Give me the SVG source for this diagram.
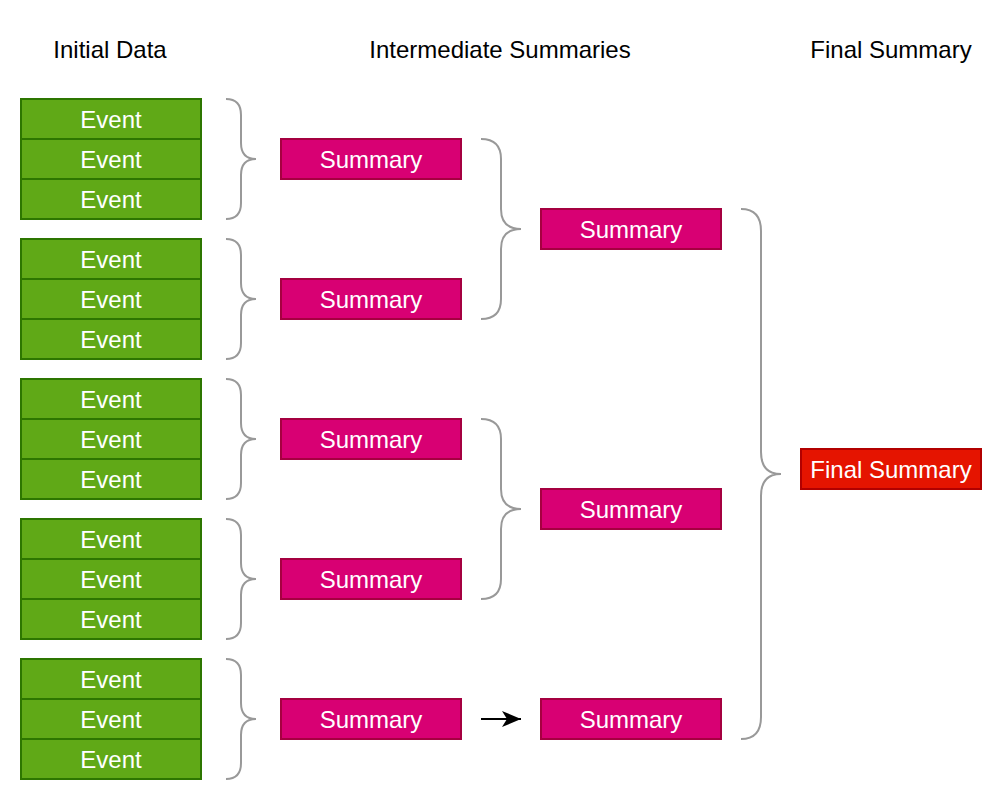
<svg xmlns="http://www.w3.org/2000/svg" width="1006" height="802" viewBox="0 0 1006 802">
<defs>
<style>
text{font-family:"Liberation Sans",Arial,sans-serif;font-size:24px;text-anchor:middle;dominant-baseline:central}
.h{fill:#000}
.ev rect{fill:#60a917;stroke:#2d7600;stroke-width:2}
.ev text,.sm text,.fs text{fill:#fff}
.sm rect{fill:#d80073;stroke:#a50040;stroke-width:2}
.fs rect{fill:#e51400;stroke:#b20000;stroke-width:2}
.br{fill:none;stroke:#999;stroke-width:2}
</style>
<marker id="ah" viewBox="0 0 19 16" refX="19" refY="8" markerWidth="19" markerHeight="16" markerUnits="userSpaceOnUse" orient="auto"><path d="M0,0 L19,8 L0,16 L5,8 Z" fill="#000"/></marker>
</defs>
<rect width="1006" height="802" fill="#fff"/>
<g id="headers">
<text class="h" x="110" y="49">Initial Data</text>
<text class="h" x="500" y="49">Intermediate Summaries</text>
<text class="h" x="891" y="49">Final Summary</text>
</g>
<g id="events1" class="ev">
<rect x="21" y="99" width="180" height="40"/><text x="111" y="119">Event</text>
<rect x="21" y="139" width="180" height="40"/><text x="111" y="159">Event</text>
<rect x="21" y="179" width="180" height="40"/><text x="111" y="199">Event</text>
</g>
<g id="events2" class="ev">
<rect x="21" y="239" width="180" height="40"/><text x="111" y="259">Event</text>
<rect x="21" y="279" width="180" height="40"/><text x="111" y="299">Event</text>
<rect x="21" y="319" width="180" height="40"/><text x="111" y="339">Event</text>
</g>
<g id="events3" class="ev">
<rect x="21" y="379" width="180" height="40"/><text x="111" y="399">Event</text>
<rect x="21" y="419" width="180" height="40"/><text x="111" y="439">Event</text>
<rect x="21" y="459" width="180" height="40"/><text x="111" y="479">Event</text>
</g>
<g id="events4" class="ev">
<rect x="21" y="519" width="180" height="40"/><text x="111" y="539">Event</text>
<rect x="21" y="559" width="180" height="40"/><text x="111" y="579">Event</text>
<rect x="21" y="599" width="180" height="40"/><text x="111" y="619">Event</text>
</g>
<g id="events5" class="ev">
<rect x="21" y="659" width="180" height="40"/><text x="111" y="679">Event</text>
<rect x="21" y="699" width="180" height="40"/><text x="111" y="719">Event</text>
<rect x="21" y="739" width="180" height="40"/><text x="111" y="759">Event</text>
</g>
<g id="sum1" class="sm"><rect x="281" y="139" width="180" height="40"/><text x="371" y="159">Summary</text></g>
<g id="sum2" class="sm"><rect x="281" y="279" width="180" height="40"/><text x="371" y="299">Summary</text></g>
<g id="sum3" class="sm"><rect x="281" y="419" width="180" height="40"/><text x="371" y="439">Summary</text></g>
<g id="sum4" class="sm"><rect x="281" y="559" width="180" height="40"/><text x="371" y="579">Summary</text></g>
<g id="sum5" class="sm"><rect x="281" y="699" width="180" height="40"/><text x="371" y="719">Summary</text></g>
<g id="sum6" class="sm"><rect x="541" y="209" width="180" height="40"/><text x="631" y="229">Summary</text></g>
<g id="sum7" class="sm"><rect x="541" y="489" width="180" height="40"/><text x="631" y="509">Summary</text></g>
<g id="sum8" class="sm"><rect x="541" y="699" width="180" height="40"/><text x="631" y="719">Summary</text></g>
<g id="final" class="fs"><rect x="801" y="449" width="180" height="40"/><text x="891" y="469">Final Summary</text></g>
<g id="connectors">
<path class="br" d="M226,99 Q241,99 241,115 L241,143 Q241,159 256,159 Q241,159 241,175 L241,203 Q241,219 226,219"/>
<path class="br" d="M226,239 Q241,239 241,255 L241,283 Q241,299 256,299 Q241,299 241,315 L241,343 Q241,359 226,359"/>
<path class="br" d="M226,379 Q241,379 241,395 L241,423 Q241,439 256,439 Q241,439 241,455 L241,483 Q241,499 226,499"/>
<path class="br" d="M226,519 Q241,519 241,535 L241,563 Q241,579 256,579 Q241,579 241,595 L241,623 Q241,639 226,639"/>
<path class="br" d="M226,659 Q241,659 241,675 L241,703 Q241,719 256,719 Q241,719 241,735 L241,763 Q241,779 226,779"/>
<path class="br" d="M481,139 Q501,139 501,159 L501,209 Q501,229 521,229 Q501,229 501,249 L501,299 Q501,319 481,319"/>
<path class="br" d="M481,419 Q501,419 501,439 L501,489 Q501,509 521,509 Q501,509 501,529 L501,579 Q501,599 481,599"/>
<path class="br" d="M741,209 Q761,209 761,231 L761,452 Q761,474 781,474 Q761,474 761,496 L761,717 Q761,739 741,739"/>
<line x1="481" y1="719" x2="521" y2="719" stroke="#000" stroke-width="2" marker-end="url(#ah)"/>
</g>
</svg>
